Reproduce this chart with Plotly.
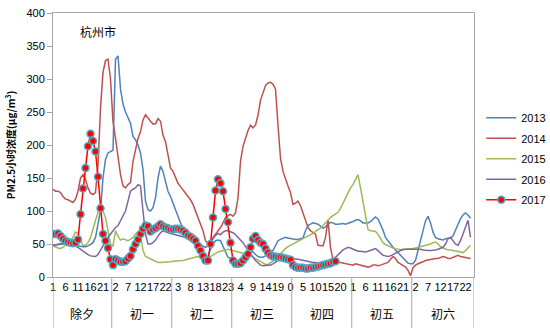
import plotly.graph_objects as go

days = ["除夕", "初一", "初二", "初三", "初四", "初五", "初六"]
tick_labels = ["1", "6", "11", "16", "21",
               "2", "7", "12", "17", "22",
               "3", "8", "13", "18", "23",
               "4", "9", "14", "19",
               "0", "5", "10", "15", "20",
               "1", "6", "11", "16", "21",
               "2", "7", "12", "17", "22"]

s2013 = [48,48,49,50,50,50,50,49,49,48,47,47,46,46,47,49,52,60,80,101,150,178,188,190,
         192,330,335,285,262,250,240,233,213,208,200,188,163,115,102,100,105,120,150,168,160,145,130,122,
         112,100,90,82,75,70,66,63,61,55,48,38,30,25,32,42,50,55,56,55,45,38,30,28,
         27,25,24,25,28,33,38,40,38,34,31,30,30,32,34,36,40,48,55,57,58,60,59,58,
         58,57,57,58,59,70,78,80,82,81,80,77,74,76,80,83,82,80,80,81,81,80,81,82,
         84,86,87,85,82,82,82,84,88,91,88,80,71,60,54,50,45,41,37,33,30,25,21,20,
         20,25,40,52,68,85,92,82,68,60,58,57,56,58,59,59,62,72,80,88,94,97,94,89]

s2014 = [133,130,130,128,122,118,117,115,113,118,130,150,155,148,135,127,125,128,170,255,310,328,330,300,
         235,210,180,155,138,135,140,143,175,195,210,220,238,246,240,236,232,232,240,236,215,205,185,165,
         160,152,142,137,132,128,122,117,110,100,88,80,70,55,50,52,60,65,70,75,82,90,93,95,
         92,97,120,175,198,210,222,230,226,230,245,268,280,290,294,295,292,285,230,180,160,148,138,128,
         110,112,115,108,98,85,75,70,68,65,48,47,47,60,87,45,26,24,22,22,21,20,19,18,
         18,20,19,19,17,16,15,16,18,18,17,18,19,20,22,27,31,28,22,20,18,15,10,2,
         14,18,20,21,23,25,26,26,27,28,28,30,31,30,28,28,30,32,33,31,30,30,29,28]

s2015 = [47,45,44,43,45,48,50,55,60,68,66,55,48,48,52,60,72,85,98,105,100,90,72,50,
         47,70,62,56,58,57,55,57,60,65,68,65,40,31,29,27,25,23,22,22,22,22,23,23,
         24,24,25,25,25,26,27,28,30,30,31,31,31,30,30,31,33,36,38,39,40,41,42,41,
         40,39,38,38,37,36,35,33,30,28,25,23,21,19,19,21,24,28,32,36,40,43,46,48,
         50,52,53,56,58,60,62,64,66,69,71,74,78,82,87,90,93,96,98,104,112,120,128,135,
         140,148,155,135,115,90,72,70,70,69,65,58,52,49,47,45,44,43,42,41,41,42,42,43,
         43,44,45,46,46,47,48,50,52,53,50,46,44,42,41,41,40,39,38,37,37,40,44,48]

s2016 = [48,49,50,50,51,51,50,50,49,47,45,42,40,37,34,32,31,31,34,40,47,55,60,65,
         70,75,78,85,92,100,115,130,133,135,140,138,100,65,50,50,52,56,62,67,70,68,67,66,
         65,64,63,62,62,61,59,57,56,53,51,48,46,45,47,52,57,63,66,64,68,70,70,69,
         67,64,60,56,52,46,40,35,30,25,21,18,17,17,17,18,20,23,25,27,28,29,29,28,
         28,28,27,26,25,24,24,23,22,22,21,21,22,23,24,25,27,30,34,38,41,43,45,44,
         42,40,39,39,38,38,39,40,42,43,40,36,33,32,31,32,34,37,39,41,42,42,42,42,
         43,43,43,42,41,40,40,40,40,41,42,43,45,50,58,60,55,50,48,55,65,75,86,60]

s2017 = [65,65,66,62,58,55,53,52,51,52,57,95,134,165,198,217,206,190,152,104,65,55,44,27,
         18,27,25,23,23,24,28,32,42,50,57,65,73,78,77,69,72,74,77,80,77,75,74,72,
         72,73,73,72,70,67,63,61,58,55,47,40,32,25,25,50,90,131,148,142,130,103,83,52,
         25,20,20,21,25,30,35,45,58,62,56,52,50,43,37,33,31,31,30,30,29,28,27,26,
         18,15,14,14,14,13,13,14,14,15,16,17,18,19,20,21,23,24]

series = [("2013", s2013, "#4F81BD"), ("2014", s2014, "#C0504D"),
          ("2015", s2015, "#9BBB59"), ("2016", s2016, "#8064A2")]

fig = go.Figure()
for name, vals, col in series:
    fig.add_trace(go.Scatter(x=list(range(len(vals))), y=vals, mode="lines", name=name,
                             legendgroup=name, line=dict(color=col, width=1.5)))
fig.add_trace(go.Scatter(x=list(range(len(s2017))), y=s2017, mode="lines+markers", name="2017",
                         legendgroup="2017",
                         line=dict(color="#FF0000", width=1.5),
                         marker=dict(color="#FF0000", size=7, line=dict(color="#4BACC6", width=1.5))))

n = len(s2013)
xmax = n + 0.4
bounds = [0, 23.5, 47.5, 71.5, 95.5, 119.5, 143.5, xmax]
grey = "#A6A6A6"
shapes = []
for b in bounds:
    shapes.append(dict(type="line", xref="x", yref="paper", x0=b, x1=b, y0=0, y1=-0.2,
                       line=dict(color=grey, width=1)))
annotations = []
for k, d in enumerate(days):
    annotations.append(dict(x=(bounds[k] + bounds[k + 1]) / 2, y=-0.14, xref="x", yref="paper",
                            text=d, showarrow=False, yanchor="middle",
                            font=dict(family="Noto Sans CJK SC", size=12, color="#000")))
annotations.append(dict(x=0.059, y=0.93, xref="paper", yref="paper", text="杭州市", showarrow=False,
                        xanchor="left", yanchor="middle",
                        font=dict(family="Noto Sans CJK SC", size=12, color="#000")))

fig.update_layout(
    width=550, height=328, margin=dict(l=53, r=76, t=13, b=51),
    plot_bgcolor="white", paper_bgcolor="white",
    shapes=shapes, annotations=annotations,
    legend=dict(xref="container", yref="container", x=0.875, y=0.685, xanchor="left", yanchor="top",
                font=dict(family="Liberation Sans", size=11, color="#000"),
                itemwidth=30, bgcolor="rgba(0,0,0,0)", tracegroupgap=1.5),
    xaxis=dict(range=[0, xmax], tickvals=list(range(0, 166, 5)), ticktext=tick_labels,
               tickangle=0, showline=True, linecolor=grey, mirror=True, showgrid=False,
               zeroline=False, ticks="", automargin=False,
               tickfont=dict(family="Liberation Sans", size=11, color="#000")),
    yaxis=dict(range=[0, 400], tickvals=list(range(0, 401, 50)), showline=True, linecolor=grey,
               mirror=True, showgrid=False, zeroline=False, ticks="outside", ticklen=5, tickcolor=grey,
               automargin=False,
               tickfont=dict(family="Liberation Sans", size=11, color="#000"),
               title=dict(text="<b>PM2.5小时浓度(μg/m<sup>3</sup>)</b>", standoff=8,
                          font=dict(family="Noto Sans CJK SC", size=10, color="#000"))),
)
fig.write_html("out.html")
